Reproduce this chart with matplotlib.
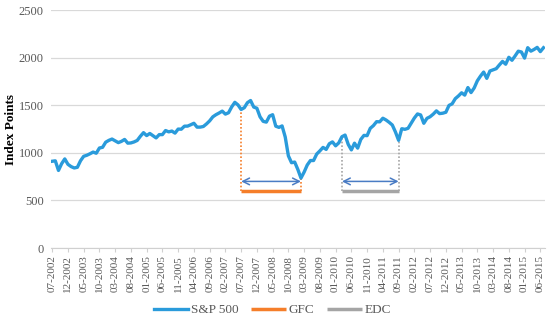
import numpy as np
import pandas as pd
import matplotlib
matplotlib.use('Agg')
import matplotlib.pyplot as plt

# monthly S&P 500 closes, 07-2002 .. 07-2015
sp500 = [
    911.6, 916.1, 815.3, 885.8, 936.3, 879.8,
    855.7, 841.2, 848.2, 916.9, 963.6, 974.5, 990.3, 1008.0, 996.0, 1050.7, 1058.2, 1111.9,
    1131.1, 1144.9, 1126.2, 1107.3, 1120.7, 1140.8, 1101.7, 1104.2, 1114.6, 1130.2, 1173.8, 1211.9,
    1181.3, 1203.6, 1180.6, 1156.9, 1191.5, 1191.3, 1234.2, 1220.3, 1228.8, 1207.0, 1249.5, 1248.3,
    1280.1, 1280.7, 1294.9, 1310.6, 1270.1, 1270.2, 1276.7, 1303.8, 1335.9, 1377.9, 1400.6, 1418.3,
    1438.2, 1406.8, 1420.9, 1482.4, 1530.6, 1503.4, 1455.3, 1474.0, 1526.8, 1549.4, 1481.1, 1468.4,
    1378.6, 1330.6, 1322.7, 1385.6, 1400.4, 1280.0, 1267.4, 1282.8, 1166.4, 968.8, 896.2, 903.3,
    825.9, 735.1, 797.9, 872.8, 919.1, 919.3, 987.5, 1020.6, 1057.1, 1036.2, 1095.6, 1115.1,
    1073.9, 1104.5, 1169.4, 1186.7, 1089.4, 1030.7, 1101.6, 1049.3, 1141.2, 1183.3, 1180.6, 1257.6,
    1286.1, 1327.2, 1325.8, 1363.6, 1345.2, 1320.6, 1292.3, 1218.9, 1131.4, 1253.3, 1247.0, 1257.6,
    1312.4, 1365.7, 1408.5, 1397.9, 1310.3, 1362.2, 1379.3, 1406.6, 1440.7, 1412.2, 1416.2, 1426.2,
    1498.1, 1514.7, 1569.2, 1597.6, 1630.7, 1606.3, 1685.7, 1633.0, 1681.6, 1756.5, 1805.8, 1848.4,
    1782.6, 1859.5, 1872.3, 1884.0, 1923.6, 1960.2, 1930.7, 2003.4, 1972.3, 2018.1, 2067.6, 2058.9,
    1995.0, 2104.5, 2067.9, 2085.5, 2107.4, 2063.1, 2103.8,
]
months = pd.date_range('2002-07-01', periods=len(sp500), freq='MS')
tick_labels = [m.strftime('%m-%Y') for m in months]

gfc = ('2007-07', '2009-02')
edc = ('2010-03', '2011-09')
bar_level = 600
arrow_level = 700

blue = '#2A9BDB'
orange = '#F57E2A'
grey = '#A5A5A5'
arrow_blue = '#4A7CC4'

plt.rcParams['font.family'] = ['Liberation Serif', 'DejaVu Serif']

fig = plt.figure(figsize=(5.5, 3.23), dpi=100)
ax = fig.add_axes([0.092, 0.232, 0.899, 0.737])

x = np.arange(len(sp500))
ax.plot(x, sp500, color=blue, lw=2.4, label='S&P 500', zorder=3)

def idx(s):
    return list(months.strftime('%Y-%m')).index(s)

for (a, b), col, name in [(gfc, orange, 'GFC'), (edc, grey, 'EDC')]:
    i0, i1 = idx(a), idx(b)
    ax.plot([i0, i1], [bar_level, bar_level], color=col, lw=2.5, label=name, solid_capstyle='butt')
    for i in (i0, i1):
        ax.plot([i, i], [bar_level, sp500[i]], color=col, lw=1.2, ls=(0, (1, 1.2)))
    ax.annotate('', xy=(i0, arrow_level), xytext=(i1, arrow_level),
                arrowprops=dict(arrowstyle='<->', color=arrow_blue, lw=1.1,
                                shrinkA=0, shrinkB=0, mutation_scale=12))

ax.set_xlim(-0.5, len(sp500) - 0.5)
ax.set_ylim(0, 2500)
ax.set_yticks(range(0, 2501, 500))
ax.set_xticks(x[::5])
ax.set_xticklabels(tick_labels[::5], rotation=90, fontsize=8, color='#595959')
ax.tick_params(axis='y', length=0, labelsize=9, colors='#595959', pad=5)
ax.tick_params(axis='x', length=3, color='#D0D0D0', pad=2)
ax.grid(axis='y', color='#D9D9D9', lw=0.9)
ax.set_axisbelow(True)
for s in ['top', 'right', 'left']:
    ax.spines[s].set_visible(False)
ax.spines['bottom'].set_color('#D0D0D0')
ax.set_ylabel('Index Points', fontsize=9.5, fontweight='bold')
ax.yaxis.set_label_coords(-0.068, 0.5)

handles, labels = ax.get_legend_handles_labels()
fig.legend(handles, labels, loc='center', bbox_to_anchor=(0.495, 0.04), ncol=3,
           frameon=False, fontsize=9.5, handlelength=2.6, columnspacing=1.0,
           handletextpad=0.2, labelcolor='#595959')

fig.savefig('out.png', dpi=100)
